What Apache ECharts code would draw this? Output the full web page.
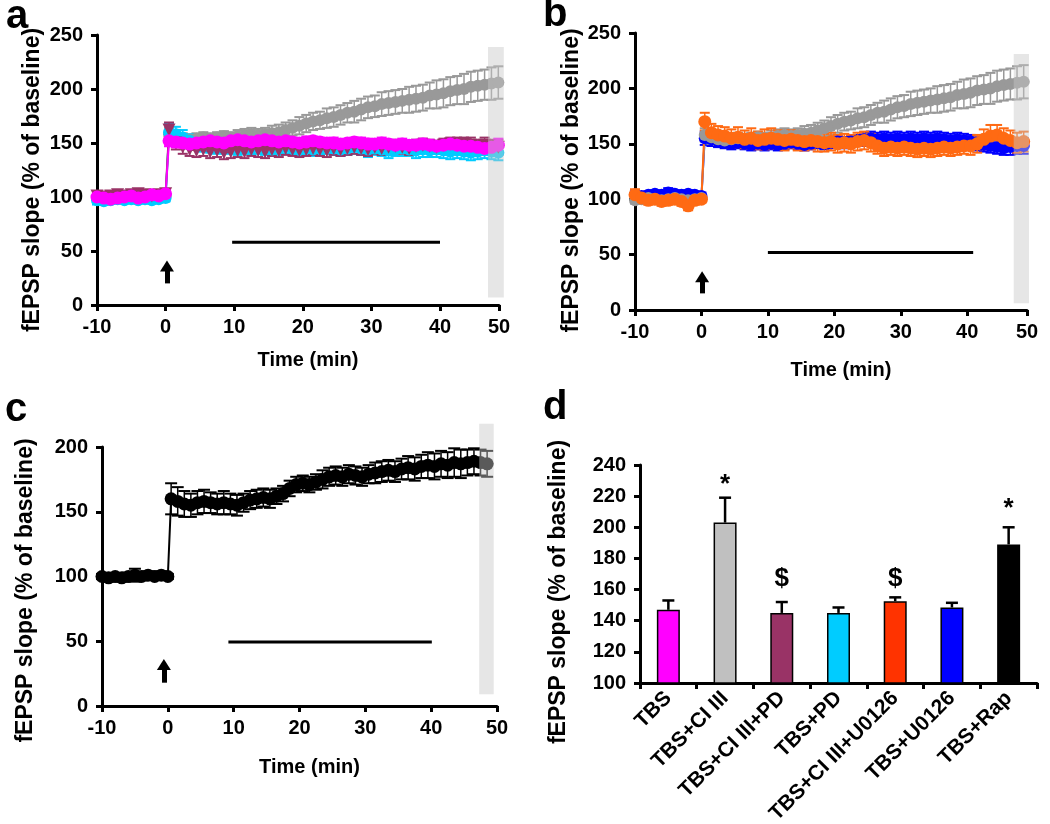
<!DOCTYPE html>
<html><head><meta charset="utf-8">
<script src="https://cdn.jsdelivr.net/npm/echarts@6/dist/echarts.min.js"></script>
<style>html,body{margin:0;padding:0;background:#fff}#c{width:1050px;height:824px}</style>
</head><body><div id="c"></div>
<script>
// ---------- data ----------
const TIME = [-10,-9,-8,-7,-6,-5,-4,-3,-2,-1,0,
  0.5,1.5,2.5,3.5,4.5,5.5,6.5,7.5,8.5,9.5,10.5,11.5,12.5,13.5,14.5,15.5,16.5,17.5,18.5,19.5,
  20.5,21.5,22.5,23.5,24.5,25.5,26.5,27.5,28.5,29.5,30.5,31.5,32.5,33.5,34.5,35.5,36.5,37.5,38.5,39.5,
  40.5,41.5,42.5,43.5,44.5,45.5,46.5,47.5,48.5];

// TBS+CI III (grey)
const GRAY = [99,100,101,100,99,100,101,100,99,100,101,
  158,156,154,153,154,155,154,155,156,155,
  156,157,158,157,158,159,160,162,164,166,
  168,170,171,173,174,176,178,179,181,183,
  184,186,187,188,189,190,191,192,194,195,
  196,198,199,200,202,203,204,205,206];
const GRAY_ERR = [3,3,3,3,3,3,3,3,3,3,3,
  6,6,5,5,5,5,5,5,5,5,
  6,6,6,6,6,7,7,7,7,8,
  8,8,8,9,9,9,9,10,10,10,
  10,11,11,11,11,12,12,12,12,13,
  13,13,13,14,14,14,14,15,15];
// TBS (magenta)
const MAGENTA = [100,99,98,99,100,101,99,100,102,101,103,
  152,151,150,149,150,151,152,151,150,152,
  153,152,151,152,153,152,151,152,151,150,
  151,152,151,150,150,149,150,151,150,149,
  149,150,149,148,149,148,148,149,148,147,
  148,149,148,147,147,146,145,146,148];
const MAGENTA_ERR = [3,3,3,2,3,3,2,3,3,3,3,
  5,5,4,4,4,4,4,5,4,4,
  4,4,4,5,4,4,4,4,4,4,
  5,4,4,4,5,4,4,4,5,5,
  4,5,4,5,5,4,5,5,5,5,
  5,5,5,6,5,6,6,6,6];
// TBS+PD (cyan)
const CYAN = [97,96,97,98,97,98,97,98,97,98,99,
  160,158,155,152,150,148,147,146,147,146,
  145,146,145,146,145,144,145,146,145,144,
  145,144,145,146,145,144,145,146,145,144,
  145,144,143,144,145,144,143,144,143,144,
  143,142,143,142,141,142,143,142,141];
const CYAN_ERR = [4,3,3,3,3,3,3,3,3,3,3,
  8,7,7,6,6,6,6,6,6,6,
  6,6,6,6,6,6,6,6,6,6,
  6,6,6,6,6,6,6,6,6,7,
  6,6,7,6,7,6,7,7,6,7,
  7,7,7,7,7,7,7,7,7];
// TBS+CI III+PD (maroon)
const MAROON = [101,100,101,102,101,102,103,102,101,102,103,
  162,150,146,144,143,144,142,143,141,142,
  143,142,144,143,142,144,143,145,144,143,
  144,145,144,143,145,144,145,146,145,144,
  146,145,146,147,146,145,147,148,147,146,
  148,149,148,149,148,147,148,147,146];
const MAROON_ERR = [3,3,3,3,3,3,3,3,3,3,3,
  7,6,6,6,6,6,6,6,6,6,
  6,6,6,6,6,6,6,6,6,6,
  6,6,6,6,6,6,6,6,6,6,
  6,6,6,6,6,6,6,6,6,6,
  6,6,7,6,7,6,7,6,7];
// TBS+U0126 (blue)
const BLUE = [104,103,104,105,104,106,105,104,105,104,103,
  155,154,152,151,150,151,150,149,150,149,
  150,149,150,151,150,149,150,151,150,151,
  152,151,152,153,154,155,154,155,154,155,
  154,155,154,155,154,155,154,153,154,153,
  152,150,149,148,147,146,147,148,148];
const BLUE_ERR = [3,3,3,3,3,4,3,3,3,3,3,
  6,6,5,5,5,5,5,5,5,5,
  5,5,5,5,5,5,5,5,5,5,
  5,5,5,5,6,6,6,6,6,6,
  6,6,6,6,6,6,6,6,6,6,
  6,6,6,6,6,6,7,7,7];
// TBS+CI III+U0126 (orange)
const ORANGE = [104,101,99,100,98,99,100,98,94,99,100,
  170,160,158,157,155,156,154,155,153,154,
  155,154,153,154,153,152,153,152,151,152,
  150,151,150,152,153,151,148,146,147,146,
  147,146,145,146,145,146,147,146,147,148,
  148,150,154,157,158,155,153,151,152];
const ORANGE_ERR = [5,4,4,4,4,4,4,4,4,4,3,
  8,8,8,8,8,9,8,9,8,9,
  9,8,9,8,9,8,8,9,8,8,
  8,8,8,8,8,8,7,7,7,7,
  7,7,7,7,7,7,7,7,7,7,
  8,8,9,10,9,9,9,9,9];
// TBS+Rap (black)
const BLACK = [100,99,100,99,100,101,100,101,100,101,100,
  160,158,156,155,157,158,157,156,157,156,
  155,157,159,160,161,160,162,164,168,171,
  172,171,173,175,177,178,177,179,178,177,
  179,180,181,182,181,183,184,183,185,186,
  185,187,186,188,187,188,189,188,187];
const BLACK_ERR = [2,3,2,3,3,5,3,3,2,3,2,
  12,11,10,9,9,9,8,8,9,8,
  8,7,7,7,7,7,6,6,6,6,
  6,6,6,7,7,7,7,7,7,7,
  7,8,8,8,8,8,9,9,9,10,
  10,10,10,11,11,10,10,10,10];

// annotations (data units)
const HBAR_A = [[9.7,58],[40,58]];
const HBAR_B = [[10,52],[40.9,52]];
const HBAR_C = [[9.2,49.5],[40.1,49.5]];
const ARROW_A = [[0.2,20],[0.2,36]];
const ARROW_B = [[0.1,15],[0.1,30]];
const ARROW_C = [[-0.6,18],[-0.6,32]];
const SHADE_A = [47,7,49.3,239];
const SHADE_B = [47,6,49.3,231];
const SHADE_C = [47.3,9,49.5,218];

// panel d
const CATS = ['TBS','TBS+CI III','TBS+CI III+PD','TBS+PD','TBS+CI III+U0126','TBS+U0126','TBS+Rap'];
const BAR_VALS = [147,203,145,145,152.5,148.5,189];
const BAR_ERR = [6,16,7,3.5,2.5,3,11];
const BAR_COLORS = ['#FF00FF','#C0C0C0','#993366','#00CCFF','#FF3300','#0000FF','#000000'];
const MARKS = ['*','$','$','*'];
const MARK_POS = [[1,227],[2,167],[4,167],[6,212]];

// ---------- chart ----------
const FONT = '"Liberation Sans", Arial, sans-serif';
const chart = echarts.init(document.getElementById('c'));

const axisLineS = {show:true, onZero:false, lineStyle:{color:'#000', width:3}};
const tickS = {show:true, length:6, lineStyle:{color:'#000', width:3}};
const lblS = {color:'#000', fontSize:20, fontWeight:'bold', fontFamily:FONT};
const nameS = (pad) => ({color:'#000', fontSize:23, fontWeight:'bold', fontFamily:FONT, padding:pad});

function xTime(gi, max, gap) {
  return {gridIndex:gi, type:'value', min:-10, max:max, interval:10,
    axisLine:axisLineS, axisTick:tickS, splitLine:{show:false},
    axisLabel:Object.assign({margin:12, formatter:v => (v > 45 ? '50' : String(v))}, lblS),
    name:'Time (min)', nameLocation:'middle', nameGap:gap,
    nameTextStyle:{color:'#000', fontSize:20, fontWeight:'bold', fontFamily:FONT, padding:[0,0,0,20]}};
}
function yVal(gi, min, max, interval, gap, pad) {
  return {gridIndex:gi, type:'value', min:min, max:max, interval:interval,
    axisLine:axisLineS, axisTick:tickS, splitLine:{show:false},
    axisLabel:Object.assign({margin:14}, lblS),
    name:'fEPSP slope (% of baseline)', nameLocation:'middle', nameGap:gap,
    nameTextStyle:nameS(pad)};
}

function lineS(ai, vals, color, symbol, rot, size) {
  return {type:'line', xAxisIndex:ai, yAxisIndex:ai, data:TIME.map((t,i)=>[t, vals[i]]),
    symbol:symbol, symbolSize:size || 12, symbolRotate:rot || 0, showAllSymbol:true,
    lineStyle:{color:color, width:2}, itemStyle:{color:color},
    silent:true, animation:false};
}
function errS(ai, vals, err, color, cap) {
  return {type:'custom', xAxisIndex:ai, yAxisIndex:ai, encode:{x:0, y:1},
    data:TIME.map((t,i)=>[t, vals[i], err[i]]),
    renderItem:(p, api) => {
      const x = api.value(0), y = api.value(1), e = api.value(2);
      const a = api.coord([x, y - e]), b = api.coord([x, y + e]);
      return {type:'group', children:[
        {type:'line', shape:{x1:a[0], y1:a[1], x2:b[0], y2:b[1]}, style:{stroke:color, lineWidth:1.5}},
        {type:'line', shape:{x1:a[0]-cap, y1:a[1], x2:a[0]+cap, y2:a[1]}, style:{stroke:color, lineWidth:2}},
        {type:'line', shape:{x1:b[0]-cap, y1:b[1], x2:b[0]+cap, y2:b[1]}, style:{stroke:color, lineWidth:2}}
      ]};
    }, silent:true, animation:false};
}
function shadeS(ai, s) {
  return {type:'custom', xAxisIndex:ai, yAxisIndex:ai, encode:{x:[0,2], y:[1,3]}, data:[s], z:10,
    renderItem:(p, api) => {
      const a = api.coord([api.value(0), api.value(1)]), b = api.coord([api.value(2), api.value(3)]);
      return {type:'rect', shape:{x:a[0], y:b[1], width:b[0]-a[0], height:a[1]-b[1]},
        style:{fill:'rgba(200,200,200,0.45)'}};
    }, silent:true, animation:false};
}
function barArrowS(ai, hbar, arrow) {
  return {type:'line', xAxisIndex:ai, yAxisIndex:ai, data:hbar, symbol:'none',
    lineStyle:{color:'#000', width:3}, silent:true, animation:false,
    markLine:{silent:true, animation:false, symbol:['none','triangle'], symbolSize:[14,11],
      label:{show:false}, lineStyle:{color:'#000', width:5, type:'solid'},
      data:[[{coord:arrow[0]}, {coord:arrow[1]}]]}};
}

const series = [
  // panel a
  errS(0, GRAY, GRAY_ERR, '#999999', 5), lineS(0, GRAY, '#999999', 'circle'),
  errS(0, CYAN, CYAN_ERR, '#00CCFF', 5), lineS(0, CYAN, '#00CCFF', 'circle'),
  errS(0, MAROON, MAROON_ERR, '#993366', 5), lineS(0, MAROON, '#993366', 'triangle', 180, 13),
  errS(0, MAGENTA, MAGENTA_ERR, '#FF00FF', 5), lineS(0, MAGENTA, '#FF00FF', 'circle', 0, 13),
  barArrowS(0, HBAR_A, ARROW_A), shadeS(0, SHADE_A),
  // panel b
  errS(1, BLUE, BLUE_ERR, '#0000FF', 5), lineS(1, BLUE, '#0000FF', 'circle'),
  errS(1, GRAY, GRAY_ERR, '#999999', 5), lineS(1, GRAY, '#999999', 'circle'),
  errS(1, ORANGE, ORANGE_ERR, '#FF6A13', 5), lineS(1, ORANGE, '#FF6A13', 'circle', 0, 13),
  barArrowS(1, HBAR_B, ARROW_B), shadeS(1, SHADE_B),
  // panel c
  errS(2, BLACK, BLACK_ERR, '#000000', 6), lineS(2, BLACK, '#000000', 'circle', 0, 13),
  barArrowS(2, HBAR_C, ARROW_C), shadeS(2, SHADE_C),
  // panel d
  {type:'bar', xAxisIndex:3, yAxisIndex:3, barWidth:23,
    data:BAR_VALS.map((v,i)=>({value:v, itemStyle:{color:BAR_COLORS[i]}})),
    itemStyle:{borderColor:'#000', borderWidth:1.5}, silent:true, animation:false},
  {type:'custom', xAxisIndex:3, yAxisIndex:3, encode:{x:0, y:1},
    data:BAR_VALS.map((v,i)=>[i, v, BAR_ERR[i]]),
    renderItem:(p, api) => {
      const a = api.coord([api.value(0), api.value(1)]);
      const b = api.coord([api.value(0), api.value(1) + api.value(2)]);
      return {type:'group', children:[
        {type:'line', shape:{x1:a[0], y1:a[1], x2:b[0], y2:b[1]}, style:{stroke:'#000', lineWidth:2.5}},
        {type:'line', shape:{x1:b[0]-6, y1:b[1], x2:b[0]+6, y2:b[1]}, style:{stroke:'#000', lineWidth:2.5}}
      ]};
    }, silent:true, animation:false},
  {type:'custom', xAxisIndex:3, yAxisIndex:3, encode:{x:0, y:1},
    data:MARK_POS,
    renderItem:(p, api) => {
      const a = api.coord([api.value(0), api.value(1)]);
      return {type:'text', x:a[0], y:a[1], style:{text:MARKS[p.dataIndex], fill:'#000',
        font:'bold 26px ' + FONT, align:'center', verticalAlign:'middle'}};
    }, silent:true, animation:false}
];

chart.setOption({
  animation:false,
  backgroundColor:'#fff',
  grid:[
    {left:97, top:35, width:402, height:270, outerBoundsMode:'none', containLabel:false},
    {left:635, top:33, width:392, height:277, outerBoundsMode:'none', containLabel:false},
    {left:102, top:447, width:395, height:259, outerBoundsMode:'none', containLabel:false},
    {left:640, top:465, width:397, height:218, outerBoundsMode:'none', containLabel:false}
  ],
  xAxis:[
    xTime(0, 48.6, 45),
    xTime(1, 49, 50),
    xTime(2, 50, 51),
    {gridIndex:3, type:'category', data:CATS, boundaryGap:true,
      axisLine:{show:true, lineStyle:{color:'#000', width:3}},
      axisTick:{show:true, length:6, alignWithLabel:false, lineStyle:{color:'#000', width:3}},
      axisLabel:Object.assign({}, lblS, {rotate:45, interval:0, margin:12, fontSize:21})}
  ],
  yAxis:[
    yVal(0, 0, 250, 50, 53, [0,20,0,0]),
    yVal(1, 0, 250, 50, 52, [0,18,0,0]),
    yVal(2, 0, 200, 50, 65, [0,28,0,0]),
    yVal(3, 100, 240, 20, 70, [0,36,0,0])
  ],
  graphic:[
    {type:'text', left:6, top:-3, style:{text:'a', font:'bold 40px ' + FONT, fill:'#000'}},
    {type:'text', left:543, top:-5, style:{text:'b', font:'bold 40px ' + FONT, fill:'#000'}},
    {type:'text', left:5, top:390, style:{text:'c', font:'bold 40px ' + FONT, fill:'#000'}},
    {type:'text', left:543, top:388, style:{text:'d', font:'bold 40px ' + FONT, fill:'#000'}}
  ],
  series:series
});
</script>
</body></html>
